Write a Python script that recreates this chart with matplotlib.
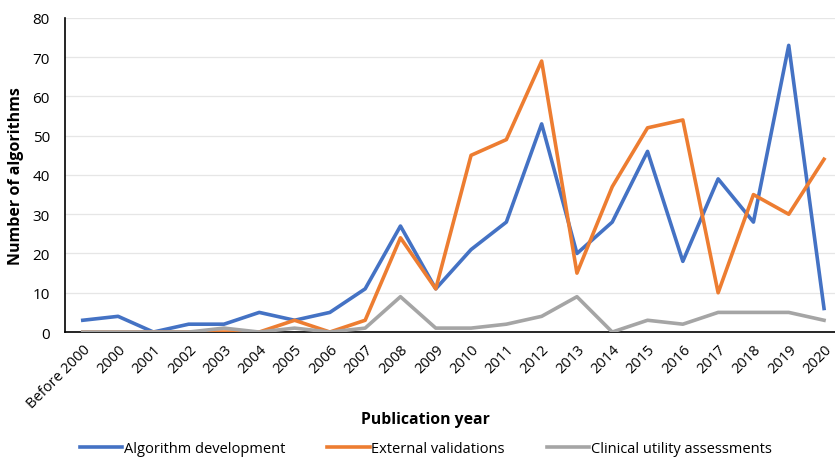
import matplotlib
matplotlib.use("Agg")
import matplotlib.pyplot as plt

years = ["Before 2000", "2000", "2001", "2002", "2003", "2004", "2005", "2006",
         "2007", "2008", "2009", "2010", "2011", "2012", "2013", "2014", "2015",
         "2016", "2017", "2018", "2019", "2020"]
algorithm_development = [3, 4, 0, 2, 2, 5, 3, 5, 11, 27, 11, 21, 28, 53, 20, 28, 46, 18, 39, 28, 73, 6]
external_validations = [0, 0, 0, 0, 0, 0, 3, 0, 3, 24, 11, 45, 49, 69, 15, 37, 52, 54, 10, 35, 30, 44]
clinical_utility = [0, 0, 0, 0, 1, 0, 1, 0, 1, 9, 1, 1, 2, 4, 9, 0, 3, 2, 5, 5, 5, 3]

plt.rcParams['font.family'] = ['Open Sans', 'DejaVu Sans']

fig = plt.figure(figsize=(8.35, 4.6), dpi=100)
ax = fig.add_axes([0.078, 0.276, 0.93, 0.683])

x = range(len(years))
ax.plot(x, algorithm_development, color='#4472C4', lw=2.6, label='Algorithm development', zorder=3)
ax.plot(x, external_validations, color='#ED7D31', lw=2.6, label='External validations', zorder=3)
ax.plot(x, clinical_utility, color='#A5A5A5', lw=2.6, label='Clinical utility assessments', zorder=3)

ax.set_ylim(0, 80)
ax.set_yticks(range(0, 81, 10))
ax.set_xlim(-0.5, 21.5)
ax.set_xticks(list(x))
ax.set_xticklabels(years, rotation=45, ha='right', rotation_mode='anchor', fontsize=10.5)
ax.tick_params(axis='y', labelsize=11, length=0, pad=11)
ax.tick_params(axis='x', length=0, pad=7)
ax.grid(axis='y', color='#E6E6E6', lw=0.9, zorder=0)
ax.set_axisbelow(True)
for s in ['top', 'right']:
    ax.spines[s].set_visible(False)
ax.spines['left'].set_color('black')
ax.spines['bottom'].set_color('black')
ax.spines['left'].set_linewidth(1.2)
ax.spines['bottom'].set_linewidth(1.2)

ax.set_ylabel('Number of algorithms', fontsize=11.5, fontweight='bold')
ax.yaxis.set_label_coords(-0.053, 0.5)
ax.set_xlabel('Publication year', fontsize=11.3, fontweight='bold')
ax.xaxis.set_label_coords(0.464, -0.25)

fig.legend(loc='center', ncol=3, frameon=False, fontsize=10.5,
           bbox_to_anchor=(0.51, 0.022), handlelength=2.9, handletextpad=0.1,
           columnspacing=2.9)

fig.savefig('out.png', dpi=100)
